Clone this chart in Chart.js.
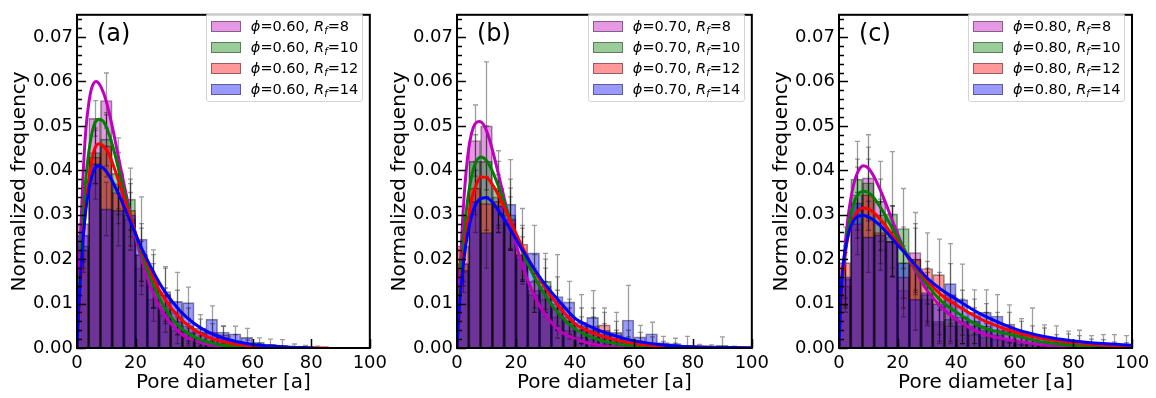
<!DOCTYPE html>
<html><head><meta charset="utf-8">
<script src="https://cdn.jsdelivr.net/npm/chart.js@4"></script>
<style>
body{margin:0;background:#fff;width:1156px;height:398px;overflow:hidden;position:relative;font-family:"DejaVu Sans",sans-serif;}
canvas{position:absolute;top:0;}
.lab{position:absolute;top:19px;font-size:24px;line-height:28px;color:#000;}
.leg{position:absolute;top:13px;width:157px;height:89px;background:rgba(255,255,255,0.8);border:1px solid #d4d4d4;border-radius:3px;box-sizing:border-box;}
.row{position:absolute;left:4px;height:18px;font-size:14.5px;line-height:18px;white-space:nowrap;color:#000;}
.patch{position:absolute;left:0;top:4px;width:30px;height:11px;box-sizing:border-box;border:1px solid rgba(0,0,0,0.4);}
.txt{position:absolute;left:40px;top:0;}
.txt sub{font-size:10px;vertical-align:-3px;line-height:0;}
</style></head>
<body>
<canvas id="cA"></canvas><canvas id="cB"></canvas><canvas id="cC"></canvas>
<script>
// ---------- data ----------
const binCenters = [2,6,10,14,18,22,26,30,34,38,42,46,50,54,58,62,66,70,74,78,82,86,90,94,98];
const yTicks = [0,0.01,0.02,0.03,0.04,0.05,0.06,0.07];
const xTicks = [0,20,40,60,80,100];
const phiValues = ['0.60','0.70','0.80'];
const rfValues = [8,10,12,14];
const panelLetters = ['(a)','(b)','(c)'];

// panel (a) histograms and error bars
const histA_m = [0.028,0.0517,0.0557,0.037,0.029,0.018,0.011,0.0075,0.004,0.0025,0.0012,0.0006,0.0003,0,0,0,0,0,0,0,0,0,0,0,0];
const histA_g = [0.023,0.044,0.047,0.0393,0.0335,0.021,0.014,0.0095,0.006,0.0035,0.002,0.001,0.0005,0.0003,0,0,0,0,0,0,0,0,0,0,0];
const histA_r = [0.022,0.043,0.0455,0.035,0.031,0.021,0.015,0.0127,0.008,0.005,0.0035,0.0035,0.003,0.0015,0.0008,0.0004,0.0002,0,0,0,0,0,0,0,0];
const histA_b = [0.0254,0.0415,0.0313,0.031,0.030,0.0245,0.0156,0.012,0.0105,0.0102,0.0045,0.0065,0.0036,0.0032,0.0024,0.0013,0.0008,0.0006,0.0003,0.0002,0.0001,0,0,0,0];
const errA_m = [0.006,0.004,0.0062,0.007,0.006,0.006,0.005,0.004,0.003,0.002,0.0015,0.001,0.0008,0,0,0,0,0,0,0,0,0,0,0,0];
const errA_g = [0.005,0.007,0.006,0.008,0.007,0.006,0.005,0.004,0.003,0.002,0.0015,0.001,0.0008,0.0006,0,0,0,0,0,0,0,0,0,0,0];
const errA_r = [0.005,0.006,0.007,0.007,0.006,0.007,0.006,0.0056,0.005,0.004,0.003,0.002,0.002,0.0015,0.001,0.0006,0.0005,0,0,0,0,0,0,0,0];
const errA_b = [0.006,0.008,0.006,0.008,0.008,0.0095,0.0065,0.006,0.0065,0.0035,0.003,0.003,0.0013,0.0017,0.002,0.001,0.0012,0.0013,0.0006,0.0004,0.0003,0,0,0,0];

// panel (b)
const histB_m = [0.019,0.0467,0.050,0.034,0.028,0.020,0.012,0.011,0.007,0.004,0.0025,0.002,0.001,0.0005,0.0003,0,0,0,0,0,0,0,0,0,0];
const histB_g = [0.019,0.042,0.042,0.036,0.030,0.021,0.013,0.015,0.009,0.006,0.004,0.004,0.003,0.002,0.001,0.0006,0.0003,0,0,0,0,0,0,0,0];
const histB_r = [0.023,0.036,0.0325,0.033,0.029,0.0234,0.015,0.013,0.010,0.007,0.005,0.005,0.0052,0.003,0.002,0.0015,0.001,0.0005,0.0003,0,0,0,0,0,0];
const histB_b = [0.0175,0.033,0.026,0.032,0.0324,0.021,0.0214,0.014,0.0116,0.0104,0.0058,0.0069,0.004,0.0035,0.0063,0.0025,0.0032,0.0012,0.001,0.0005,0.0003,0.0003,0.0006,0.0002,0];
const errB_m = [0.004,0.008,0.0144,0.008,0.006,0.005,0.004,0.004,0.003,0.002,0.0015,0.0015,0.001,0.0008,0.0005,0,0,0,0,0,0,0,0,0,0];
const errB_g = [0.005,0.006,0.008,0.0084,0.008,0.006,0.005,0.0063,0.004,0.003,0.003,0.003,0.0025,0.002,0.0015,0.001,0.0006,0,0,0,0,0,0,0,0];
const errB_r = [0.006,0.006,0.006,0.006,0.007,0.008,0.006,0.005,0.006,0.004,0.004,0.004,0.0038,0.003,0.002,0.002,0.0015,0.001,0.0008,0,0,0,0,0,0];
const errB_b = [0.005,0.007,0.008,0.006,0.010,0.0066,0.0062,0.006,0.0094,0.0046,0.0062,0.006,0.004,0.0045,0.0078,0.0026,0.0026,0.0014,0.0012,0.0021,0.0005,0.0004,0.0019,0.0002,0];

// panel (c)
const histC_m = [0.0155,0.0345,0.0383,0.033,0.025,0.013,0.0215,0.011,0.0055,0.005,0.005,0.003,0.0025,0.002,0.0015,0.001,0.0008,0.0005,0.0003,0.0002,0,0,0,0,0];
const histC_g = [0.014,0.038,0.0372,0.030,0.0302,0.0269,0.020,0.012,0.006,0.0065,0.006,0.005,0.004,0.003,0.002,0.0015,0.0012,0.0008,0.0005,0.0005,0.0003,0.0002,0,0,0];
const histC_r = [0.0192,0.028,0.0345,0.026,0.024,0.016,0.020,0.0179,0.0165,0.012,0.007,0.006,0.005,0.004,0.0054,0.003,0.002,0.0015,0.001,0.0012,0.0008,0.0005,0.0004,0.0003,0.0002];
const histC_b = [0.016,0.0327,0.025,0.0255,0.024,0.0192,0.011,0.0125,0.010,0.0145,0.0109,0.0081,0.0081,0.0072,0.004,0.0036,0.0025,0.0022,0.0015,0.0018,0.001,0.0008,0.0006,0.0004,0.0003];
const errC_m = [0.006,0.008,0.0097,0.009,0.007,0.006,0.009,0.006,0.004,0.004,0.004,0.003,0.003,0.002,0.002,0.0015,0.001,0.001,0.0008,0.0005,0,0,0,0,0];
const errC_g = [0.006,0.0085,0.008,0.008,0.014,0.009,0.007,0.006,0.005,0.005,0.005,0.004,0.004,0.003,0.003,0.002,0.002,0.0015,0.001,0.001,0.0008,0.0006,0,0,0];
const errC_r = [0.008,0.007,0.008,0.007,0.008,0.007,0.008,0.008,0.008,0.007,0.006,0.005,0.005,0.004,0.0043,0.003,0.003,0.003,0.002,0.002,0.002,0.0015,0.0015,0.001,0.001];
const errC_b = [0.007,0.008,0.008,0.008,0.008,0.008,0.007,0.007,0.007,0.009,0.008,0.005,0.005,0.0048,0.004,0.003,0.0065,0.003,0.0035,0.002,0.003,0.002,0.0024,0.0026,0.0025];

// fitted curves, points [x, y]
const fitA_m = [[0,0],[1,0.022],[2,0.038],[3,0.049],[4,0.055],[5,0.0585],[6.5,0.060],[8,0.059],[10,0.0555],[12,0.050],[14,0.0435],[16,0.037],[18,0.031],[20,0.025],[22,0.020],[25,0.014],[28,0.0095],[32,0.0055],[36,0.003],[40,0.0017],[45,0.0008],[50,0.0003],[60,0.0001],[66,0]];
const fitA_g = [[0,0],[1,0.016],[2,0.029],[3,0.038],[4,0.044],[5,0.048],[6,0.0505],[7.5,0.0515],[9,0.051],[11,0.048],[13,0.0435],[15,0.038],[17,0.033],[19,0.028],[21,0.0235],[24,0.0175],[27,0.0128],[30,0.009],[35,0.0048],[40,0.0025],[45,0.0013],[50,0.0006],[60,0.00015],[72,0]];
const fitA_r = [[0,0],[1,0.013],[2,0.024],[3,0.032],[4,0.038],[5,0.042],[6,0.0448],[7.5,0.046],[9,0.0455],[11,0.0435],[13,0.040],[15,0.036],[17,0.0318],[19,0.0278],[21,0.024],[24,0.019],[27,0.0145],[30,0.011],[35,0.0068],[40,0.0041],[45,0.0024],[50,0.0014],[60,0.0004],[70,0.0001],[86,0]];
const fitA_b = [[0,0],[1,0.014],[2,0.024],[3,0.031],[4,0.0355],[5,0.0385],[6,0.0403],[7.5,0.041],[9,0.0405],[11,0.0388],[13,0.0363],[15,0.0335],[17,0.0303],[19,0.0272],[21,0.024],[24,0.0198],[27,0.016],[30,0.0127],[35,0.0085],[40,0.0055],[45,0.0035],[50,0.0022],[60,0.0008],[70,0.0003],[81,0]];

const fitB_m = [[0,0],[1,0.017],[2,0.030],[3,0.039],[4,0.045],[5,0.0485],[6,0.0503],[7.5,0.051],[9,0.0503],[11,0.047],[13,0.042],[15,0.0365],[17,0.031],[19,0.0258],[21,0.021],[24,0.0152],[27,0.0107],[30,0.0074],[35,0.0038],[40,0.0021],[45,0.001],[50,0.0004],[60,0.0001],[70,0]];
const fitB_g = [[0,0],[1,0.013],[2,0.023],[3,0.030],[4,0.0352],[5,0.0388],[6,0.0412],[8,0.043],[10,0.0422],[12,0.0398],[14,0.0365],[16,0.0328],[18,0.029],[20,0.0255],[23,0.0205],[26,0.0163],[30,0.0117],[35,0.0073],[40,0.0043],[45,0.0026],[50,0.0015],[60,0.0005],[70,0.0002],[80,0]];
const fitB_r = [[0,0],[1,0.011],[2,0.019],[3,0.0255],[4,0.030],[5,0.0335],[6,0.0358],[8,0.0385],[10,0.0384],[12,0.0368],[14,0.0345],[16,0.0317],[18,0.0288],[20,0.0258],[23,0.0216],[26,0.0178],[30,0.0135],[35,0.009],[40,0.0055],[45,0.0037],[50,0.0025],[60,0.001],[70,0.0004],[80,0.0002],[100,0]];
const fitB_b = [[0,0],[1,0.011],[2,0.018],[3,0.0232],[4,0.027],[5,0.0298],[6,0.0318],[8,0.0336],[10,0.0338],[12,0.0328],[14,0.031],[16,0.029],[18,0.0268],[20,0.0245],[23,0.0212],[26,0.018],[30,0.0142],[35,0.0103],[40,0.0067],[45,0.0049],[50,0.0035],[60,0.0016],[70,0.0007],[80,0.0003],[100,0.00005]];

const fitC_m = [[0,0],[1,0.013],[2,0.0225],[3,0.029],[4,0.0335],[5,0.0368],[6,0.039],[8.3,0.041],[10,0.0405],[12,0.0385],[14,0.0357],[16,0.0325],[18,0.029],[20,0.0257],[23,0.021],[26,0.0175],[30,0.013],[35,0.0092],[40,0.0064],[45,0.0044],[50,0.003],[60,0.0016],[70,0.0007],[80,0.0003],[100,0]];
const fitC_g = [[0,0],[1,0.013],[2,0.021],[3,0.0265],[4,0.030],[5,0.0325],[6,0.0341],[8.3,0.0353],[10,0.035],[12,0.0337],[14,0.0318],[16,0.0296],[18,0.0272],[20,0.0248],[23,0.0213],[26,0.018],[30,0.0143],[35,0.0105],[40,0.0081],[45,0.006],[50,0.0044],[60,0.0028],[70,0.0013],[80,0.0006],[90,0.0003],[100,0.0001]];
const fitC_r = [[0,0],[1,0.014],[2,0.0205],[3,0.0248],[4,0.0275],[5,0.0293],[6,0.0305],[8.3,0.0315],[10,0.0313],[12,0.0304],[14,0.029],[16,0.0274],[18,0.0256],[20,0.0238],[23,0.021],[26,0.0184],[30,0.0152],[35,0.0119],[40,0.0097],[45,0.0077],[50,0.006],[60,0.0036],[70,0.0021],[80,0.0012],[90,0.0007],[100,0.0004]];
const fitC_b = [[0,0],[1,0.016],[2,0.0215],[3,0.0252],[4,0.0274],[5,0.0287],[6,0.0295],[8,0.0298],[10,0.0295],[12,0.0287],[14,0.0276],[16,0.0262],[18,0.0247],[20,0.0232],[23,0.021],[26,0.0187],[30,0.0158],[35,0.0131],[40,0.011],[45,0.0089],[50,0.0071],[60,0.0043],[70,0.0026],[80,0.0016],[90,0.001],[100,0.0006]];

// ---------- styles ----------
const FONT = 'DejaVu Sans';
const lineColors = ['#bf00bf','#008000','#ff0000','#0000ff'];
const fillColors = ['rgba(191,0,191,0.4)','rgba(0,128,0,0.4)','rgba(255,0,0,0.4)','rgba(0,0,255,0.4)'];

function makePanel(id, left, width, padRight, phi, hists, errs, fits, letter) {
  const cv = document.getElementById(id);
  cv.width = width; cv.height = 398;
  cv.style.left = left + 'px'; cv.style.width = width + 'px'; cv.style.height = '398px';
  const datasets = [];
  hists.forEach((h, i) => {
    datasets.push({
      type: 'bar', label: 'ϕ=' + phi + ', Rf=' + rfValues[i],
      data: binCenters.map((x, j) => ({x: x, y: h[j] || null})),
      backgroundColor: fillColors[i], borderColor: 'rgba(0,0,0,0.45)', borderWidth: 1,
      borderSkipped: 'start', barPercentage: 1, categoryPercentage: 1, grouped: false,
      order: 8 - i, isLastBar: i === 3
    });
  });
  fits.forEach((f, i) => {
    datasets.push({
      type: 'line', label: 'fit ' + rfValues[i],
      data: f.map(p => ({x: p[0], y: p[1]})),
      borderColor: lineColors[i], borderWidth: 3, pointRadius: 0,
      cubicInterpolationMode: 'monotone', fill: false, order: 4 - i
    });
  });
  const deco = {
    id: 'deco' + id,
    afterDatasetDraw(chart, args) {
      if (!chart.data.datasets[args.index].isLastBar) return;
      const {ctx, chartArea: a, scales: {x, y}} = chart;
      ctx.save();
      ctx.beginPath(); ctx.rect(a.left, a.top, a.right - a.left, a.bottom - a.top); ctx.clip();
      ctx.strokeStyle = 'rgba(0,0,0,0.38)'; ctx.lineWidth = 1.3;
      hists.forEach((h, i) => {
        binCenters.forEach((c, j) => {
          const v = h[j], e = errs[i][j];
          if (!v && !e) return;
          const px = Math.round(x.getPixelForValue(c)) + 0.5;
          const pt = y.getPixelForValue(v + e), pb = y.getPixelForValue(v - e);
          ctx.beginPath();
          ctx.moveTo(px, pt); ctx.lineTo(px, pb);
          ctx.moveTo(px - 2.5, pt); ctx.lineTo(px + 2.5, pt);
          ctx.moveTo(px - 2.5, pb); ctx.lineTo(px + 2.5, pb);
          ctx.stroke();
        });
      });
      ctx.restore();
    },
    afterDraw(chart) {
      const {ctx, chartArea: a, scales: {x, y}} = chart;
      ctx.save();
      ctx.strokeStyle = '#000';
      ctx.lineWidth = 1.5;
      ctx.beginPath();
      for (let k = 0; k <= 37; k++) {
        const v = k * 0.002;
        const py = Math.round(y.getPixelForValue(v)) + 0.5;
        const major = k % 5 === 0;
        ctx.moveTo(a.left, py); ctx.lineTo(a.left + (major ? 9 : 5), py);
      }
      xTicks.forEach(v => {
        const px = Math.round(x.getPixelForValue(v)) + 0.5;
        ctx.moveTo(px, a.bottom); ctx.lineTo(px, a.bottom - 9);
      });
      ctx.stroke();
      ctx.lineWidth = 2;
      ctx.strokeRect(a.left, a.top, a.right - a.left, a.bottom - a.top);
      ctx.restore();
    }
  };
  const chart = new Chart(cv, {
    type: 'bar',
    data: {datasets},
    options: {
      responsive: false, animation: false, devicePixelRatio: 1,
      layout: {padding: {left: 0, right: padRight, top: 5, bottom: 0}},
      plugins: {legend: {display: false}, tooltip: {enabled: false}},
      scales: {
        x: {
          type: 'linear', min: 0, max: 100, offset: false,
          afterFit: s => { s.height = 50; },
          afterBuildTicks: s => { s.ticks = xTicks.map(v => ({value: v})); },
          grid: {display: false, drawTicks: false}, border: {display: false},
          ticks: {font: {size: 18, family: FONT}, color: '#000', padding: 5, maxRotation: 0, autoSkip: false, callback: v => String(v)},
          title: {display: true, text: 'Pore diameter [a]', font: {size: 20, family: FONT}, color: '#000', padding: {top: 0, bottom: 3}}
        },
        y: {
          type: 'linear', min: 0, max: 0.075,
          afterFit: s => { s.width = 77; },
          afterBuildTicks: s => { s.ticks = yTicks.map(v => ({value: v})); },
          grid: {display: false, drawTicks: false}, border: {display: false},
          ticks: {font: {size: 18, family: FONT}, color: '#000', padding: 4, callback: v => Number(v).toFixed(2)},
          title: {display: true, text: 'Normalized frequency', font: {size: 20, family: FONT}, color: '#000', padding: {top: 8, bottom: 0}}
        }
      }
    },
    plugins: [deco]
  });
  // panel letter and legend (html text)
  const axLeft = chart.chartArea.left + left, axRight = chart.chartArea.right + left;
  const lab = document.createElement('div');
  lab.className = 'lab'; lab.textContent = letter;
  lab.style.left = (axLeft + 20) + 'px';
  document.body.appendChild(lab);
  const leg = document.createElement('div');
  leg.className = 'leg'; leg.style.left = (axRight - 164) + 'px';
  rfValues.forEach((rf, i) => {
    const row = document.createElement('div');
    row.className = 'row'; row.style.top = (3 + i * 21) + 'px';
    row.innerHTML = '<div class="patch" style="background:' + fillColors[i] + '"></div>' +
      '<div class="txt"><i>ϕ</i>=' + phi + ', <i>R</i><sub><i>f</i></sub>=' + rf + '</div>';
    leg.appendChild(row);
  });
  document.body.appendChild(leg);
}

makePanel('cA', 0, 392, 22, phiValues[0], [histA_m, histA_g, histA_r, histA_b], [errA_m, errA_g, errA_r, errA_b], [fitA_m, fitA_g, fitA_r, fitA_b], panelLetters[0]);
makePanel('cB', 380, 394, 22, phiValues[1], [histB_m, histB_g, histB_r, histB_b], [errB_m, errB_g, errB_r, errB_b], [fitB_m, fitB_g, fitB_r, fitB_b], panelLetters[1]);
makePanel('cC', 762, 394, 24, phiValues[2], [histC_m, histC_g, histC_r, histC_b], [errC_m, errC_g, errC_r, errC_b], [fitC_m, fitC_g, fitC_r, fitC_b], panelLetters[2]);
</script>
</body></html>
